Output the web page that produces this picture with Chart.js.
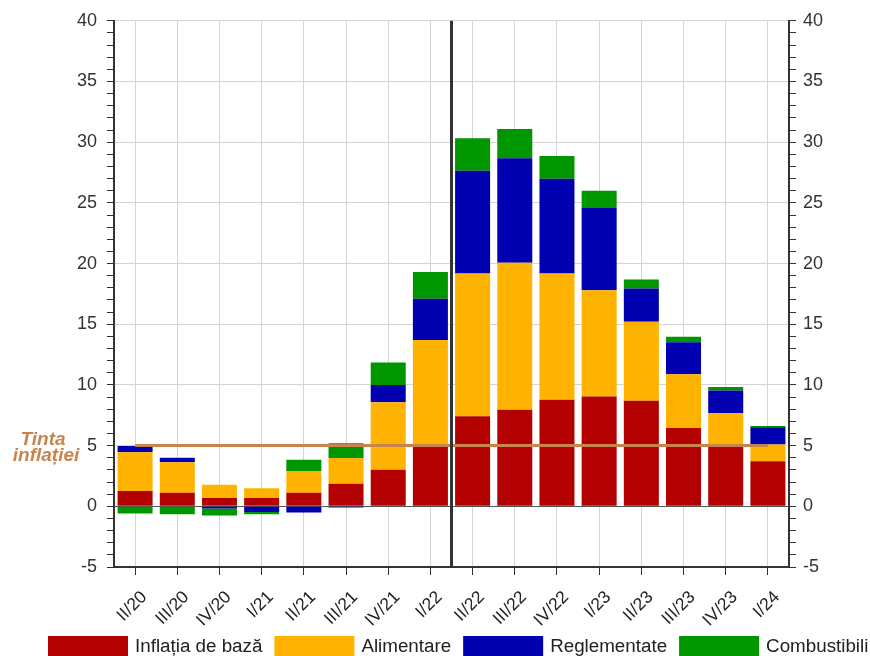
<!DOCTYPE html>
<html>
<head>
<meta charset="utf-8">
<script src="https://cdn.jsdelivr.net/npm/chart.js@4.4.1/dist/chart.umd.min.js"></script>
<style>
  html, body { margin: 0; padding: 0; background: #fff; }
</style>
</head>
<body>
<canvas id="chart" width="870" height="656"></canvas>
<script>
// Quarters on the x axis
const quarters = ['II/20', 'III/20', 'IV/20', 'I/21', 'II/21', 'III/21', 'IV/21', 'I/22',
                  'II/22', 'III/22', 'IV/22', 'I/23', 'II/23', 'III/23', 'IV/23', 'I/24'];

// Contributions (percentage points)
const coreInflation = [1.26, 1.12, 0.68, 0.68, 1.12, 1.86, 3.01, 4.93, 7.41, 7.96, 8.78, 9.05, 8.7, 6.46, 4.93, 3.72];
const food          = [3.2, 2.52, 1.1, 0.8, 1.78, 2.11, 5.56, 8.77, 11.78, 12.1, 10.41, 8.75, 6.5, 4.43, 2.73, 1.37];
const regulated     = [0.5, 0.36, -0.19, -0.47, -0.52, -0.1, 1.42, 3.4, 8.45, 8.62, 7.8, 6.77, 2.75, 2.63, 1.89, 1.42];
const fuels         = [-0.6, -0.66, -0.57, -0.19, 0.93, 1.23, 1.86, 2.2, 2.68, 2.41, 1.88, 1.43, 0.74, 0.45, 0.28, 0.11];

const inflationTarget = 5;
const regimeBreakAfter = 'I/22';

const FONT = '"Liberation Sans", Arial, sans-serif';

// "Tinta inflatiei" label to the left of the axis, plus the target line itself
const targetPlugin = {
    id: 'inflationTarget',
    afterDatasetsDraw(chart) {
        const { ctx, scales } = chart;
        const y = scales.y.getPixelForValue(inflationTarget);
        ctx.save();
        ctx.strokeStyle = '#C8844E';
        ctx.lineWidth = 3;
        ctx.beginPath();
        ctx.moveTo(scales.x.getPixelForValue(0), y);
        ctx.lineTo(scales.x.getPixelForValue(quarters.length - 1), y);
        ctx.stroke();
        ctx.restore();
    },
    afterDraw(chart) {
        const ctx = chart.ctx;
        const y = chart.scales.y.getPixelForValue(inflationTarget);
        ctx.save();
        ctx.fillStyle = '#C8844E';
        ctx.font = 'italic bold 19px ' + FONT;
        ctx.textAlign = 'center';
        ctx.textBaseline = 'alphabetic';
        ctx.fillText('Tinta', 43, y - 1);
        ctx.fillText('inflației', 46, y + 15);
        ctx.restore();
    }
};

// Vertical separator between I/22 and II/22
const breakLinePlugin = {
    id: 'breakLine',
    afterDraw(chart) {
        const { ctx, chartArea, scales } = chart;
        const i = quarters.indexOf(regimeBreakAfter);
        const x = (scales.x.getPixelForValue(i) + scales.x.getPixelForValue(i + 1)) / 2;
        ctx.save();
        ctx.strokeStyle = '#333';
        ctx.lineWidth = 3;
        ctx.beginPath();
        ctx.moveTo(x, chartArea.top);
        ctx.lineTo(x, chartArea.bottom);
        ctx.stroke();
        ctx.restore();
    }
};

// Legend along the bottom edge (partly cut off, like the source)
const bottomLegendPlugin = {
    id: 'bottomLegend',
    afterDraw(chart) {
        const ctx = chart.ctx;
        ctx.save();
        ctx.font = '18.8px ' + FONT;
        ctx.textBaseline = 'middle';
        let x = 48;
        chart.data.datasets.forEach(ds => {
            ctx.fillStyle = ds.backgroundColor;
            ctx.fillRect(x, 636, 80, 22);
            x += 87;
            ctx.fillStyle = '#222';
            ctx.fillText(ds.label, x, 647);
            x += ctx.measureText(ds.label).width + 12;
        });
        ctx.restore();
    }
};

const gridColor = ctx => {
    const v = ctx.tick ? ctx.tick.value : null;
    if (v === 0) return '#555';
    return v % 5 === 0 ? '#d4d4d4' : 'rgba(0,0,0,0)';
};

new Chart(document.getElementById('chart'), {
    type: 'bar',
    data: {
        labels: quarters,
        datasets: [
            { label: 'Inflația de bază', data: coreInflation, backgroundColor: '#B30000' },
            { label: 'Alimentare', data: food, backgroundColor: '#FFB300' },
            { label: 'Reglementate', data: regulated, backgroundColor: '#0000B0' },
            { label: 'Combustibili', data: fuels, backgroundColor: '#009600' }
        ]
    },
    options: {
        responsive: false,
        animation: false,
        layout: { padding: { top: 18, left: 0, right: 0, bottom: 0 } },
        datasets: { bar: { categoryPercentage: 1, barPercentage: 0.83 } },
        plugins: {
            legend: { display: false },
            tooltip: { enabled: false }
        },
        scales: {
            x: {
                stacked: true,
                z: 1,
                grid: { offset: false, color: '#d4d4d4', tickColor: '#333', tickLength: 8 },
                border: { color: '#333', width: 2 },
                ticks: {
                    maxRotation: 45, minRotation: 45, autoSkip: false,
                    color: '#222', padding: 12, labelOffset: 9,
                    font: { family: FONT, size: 17.5 }
                },
                afterFit: s => { s.height = 89; }
            },
            y: {
                stacked: true,
                position: 'left',
                min: -5, max: 40,
                z: 1,
                grid: { color: gridColor, tickColor: '#333', tickLength: 7 },
                border: { color: '#333', width: 2 },
                ticks: {
                    stepSize: 1, autoSkip: false, maxTicksLimit: 100,
                    callback: v => (v % 5 === 0 ? v : ''),
                    color: '#333', padding: 10,
                    font: { family: FONT, size: 18 }
                },
                afterFit: s => { s.width = 114; }
            },
            y2: {
                position: 'right',
                min: -5, max: 40,
                z: 1,
                grid: { drawOnChartArea: false, tickColor: '#333', tickLength: 7 },
                border: { color: '#333', width: 2 },
                ticks: {
                    stepSize: 1, autoSkip: false, maxTicksLimit: 100,
                    callback: v => (v % 5 === 0 ? v : ''),
                    color: '#333', padding: 7,
                    font: { family: FONT, size: 18 }
                },
                afterFit: s => { s.width = 81; }
            }
        }
    },
    plugins: [targetPlugin, breakLinePlugin, bottomLegendPlugin]
});
</script>
</body>
</html>
